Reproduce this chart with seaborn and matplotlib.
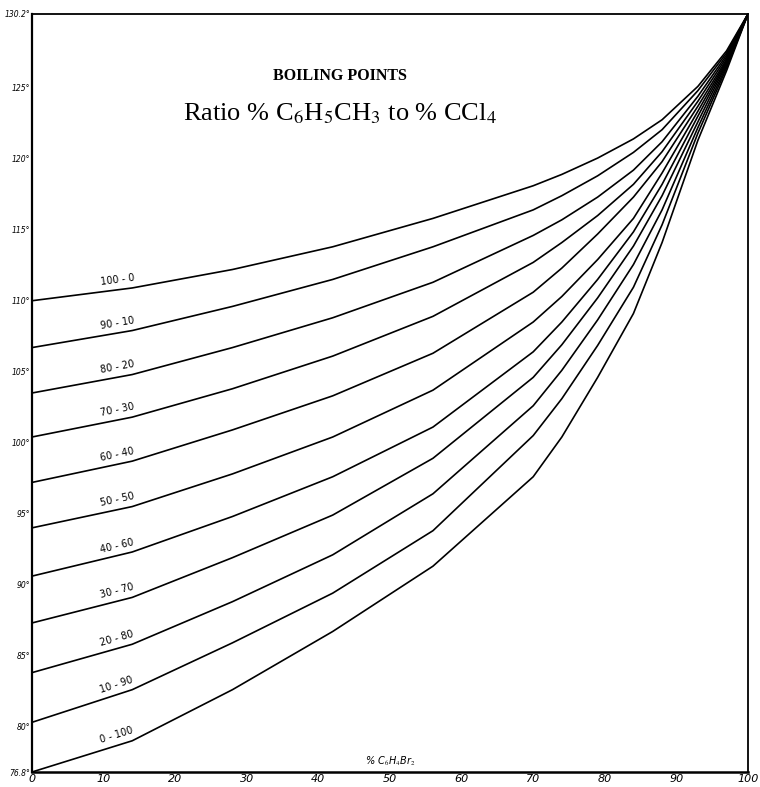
import numpy as np
import pandas as pd
import matplotlib
matplotlib.use("Agg")
import matplotlib.pyplot as plt
import seaborn as sns

# % C6H4Br2 (x axis)
pct = [0, 14, 28, 42, 56, 70, 74, 79, 84, 88, 93, 97, 100]

# ratio % C6H5CH3 to % CCl4
ratios = ["100-0", "90-10", "80-20", "70-30", "60-40", "50-50",
          "40-60", "30-70", "20-80", "10-90", "0-100"]

# boiling points (deg C)
bp_100_0 = [110.0, 110.9, 112.2, 113.8, 115.8, 118.1, 118.9, 120.05, 121.4, 122.75, 125.1, 127.6, 130.2]
bp_90_10 = [106.7, 107.9, 109.6, 111.5, 113.8, 116.4, 117.4, 118.8, 120.45, 122.05, 124.8, 127.45, 130.2]
bp_80_20 = [103.5, 104.8, 106.7, 108.8, 111.3, 114.6, 115.7, 117.3, 119.2, 121.2, 124.4, 127.3, 130.2]
bp_70_30 = [100.4, 101.8, 103.8, 106.1, 108.9, 112.7, 114.1, 116.0, 118.2, 120.5, 124.05, 127.15, 130.2]
bp_60_40 = [97.2, 98.7, 100.9, 103.3, 106.3, 110.6, 112.3, 114.7, 117.3, 119.8, 123.7, 127.0, 130.2]
bp_50_50 = [94.0, 95.5, 97.8, 100.4, 103.7, 108.5, 110.3, 112.9, 115.8, 119.0, 123.35, 126.9, 130.2]
bp_40_60 = [90.6, 92.3, 94.8, 97.6, 101.1, 106.4, 108.5, 111.5, 114.85, 118.2, 123.0, 126.8, 130.2]
bp_30_70 = [87.3, 89.1, 91.9, 94.9, 98.9, 104.6, 106.9, 110.2, 113.85, 117.4, 122.6, 126.7, 130.2]
bp_20_80 = [83.8, 85.8, 88.8, 92.1, 96.4, 102.6, 105.1, 108.65, 112.55, 116.4, 122.2, 126.55, 130.2]
bp_10_90 = [80.3, 82.6, 85.9, 89.4, 93.8, 100.5, 103.1, 106.85, 110.95, 115.35, 121.8, 126.4, 130.2]
bp_0_100 = [76.8, 79.0, 82.6, 86.7, 91.3, 97.6, 100.4, 104.6, 109.1, 114.1, 121.3, 126.2, 130.2]

curves = [bp_100_0, bp_90_10, bp_80_20, bp_70_30, bp_60_40, bp_50_50,
          bp_40_60, bp_30_70, bp_20_80, bp_10_90, bp_0_100]

y_ticks = [76.8, 80, 85, 90, 95, 100, 105, 110, 115, 120, 125, 130.2]
y_labels = ["76.8°", "80°", "85°", "90°", "95°", "100°", "105°", "110°",
            "115°", "120°", "125°", "130.2°"]
x_ticks = [0, 10, 20, 30, 40, 50, 60, 70, 80, 90, 100]
x_labels = ["0", "10", "20", "30", "40", "50", "60", "70", "80", "90", "100"]

sns.set_theme(style="white")
plt.rcParams['font.family'] = ['DejaVu Sans']
plt.rcParams['mathtext.fontset'] = 'stix'

df = pd.concat([pd.DataFrame({"pct": pct, "bp": c, "ratio": r})
                for r, c in zip(ratios, curves)], ignore_index=True)

fig = plt.figure(figsize=(7.6, 7.87), dpi=100)
ax = fig.add_axes([32 / 760, 15 / 787, 716 / 760, 758 / 787])

sns.lineplot(data=df, x="pct", y="bp", units="ratio", estimator=None,
             sort=False, color="black", linewidth=1.2, ax=ax)

ax.set_xlim(0, 100)
ax.set_ylim(76.8, 130.2)
ax.set_xlabel("")
ax.set_ylabel("")
ax.set_yticks(y_ticks)
ax.set_yticklabels(y_labels, fontsize=5.5, style="italic")
ax.set_xticks(x_ticks)
ax.set_xticklabels(x_labels, fontsize=8, style="italic")
ax.tick_params(length=0, pad=1.5, colors="black")
for s in ax.spines.values():
    s.set_color("black")
    s.set_linewidth(1.3)
ax.spines["left"].set_linewidth(1.6)
ax.spines["bottom"].set_linewidth(1.8)

# curve labels
fig.canvas.draw()
lab_x = 12.0
for r, c in zip(ratios, curves):
    y0 = np.interp(lab_x, pct, c)
    p1 = ax.transData.transform((pct[0], c[0]))
    p2 = ax.transData.transform((pct[1], c[1]))
    ang = np.degrees(np.arctan2(p2[1] - p1[1], p2[0] - p1[0]))
    ax.text(lab_x, y0 + 0.35, r.replace("-", " - "), fontsize=7,
            rotation=ang, rotation_mode="anchor", ha="center", va="bottom",
            color="black")

ax.text(0.43, 0.918, "BOILING POINTS", transform=ax.transAxes,
        ha="center", va="center", fontsize=11.5, fontweight="semibold",
        family="Liberation Serif", color="black")
ax.text(0.43, 0.868, r"Ratio % C$_6$H$_5$CH$_3$ to % CCl$_4$",
        transform=ax.transAxes, ha="center", va="center", fontsize=19,
        family="Liberation Serif", color="black")
ax.text(50, 77.1, r"% C$_6$H$_4$Br$_2$", ha="center", va="bottom",
        fontsize=7, style="italic", color="black")

fig.savefig("out.png", dpi=100)
